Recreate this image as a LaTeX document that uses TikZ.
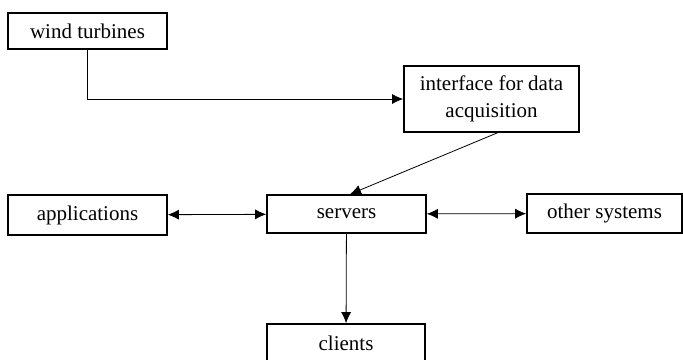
\documentclass[tikz,border=0pt]{standalone}
\usepackage{fontspec}
\setmainfont{Liberation Serif}
\usetikzlibrary{arrows.meta}

\tikzset{
  unit/.style={draw, line width=1.6pt, inner sep=0pt, align=center,
    font=\fontsize{21}{27}\selectfont},
}

\begin{document}
\begin{tikzpicture}
    [>={Latex[length=11pt,width=10pt]},
    x=1pt, y=-1pt,
    line width=0.8pt,
    line join=miter]

    \useasboundingbox (0,0) rectangle (683,359);

    \node[unit, minimum width=159, minimum height=36] (turbines) at (87.5,31) {wind turbines};
    \node[unit, minimum width=175, minimum height=66] (interface) at (491.5,99) {interface for data\\acquisition};
    \node[unit, minimum width=159, minimum height=40] (applications) at (87.5,215) {applications};
    \node[unit, minimum width=159, minimum height=38] (servers) at (346.5,214) {servers};
    \node[unit, minimum width=155, minimum height=39] (others) at (604.5,213.5) {other systems};
    \node[unit, minimum width=158, minimum height=38] (clients) at (346,343) {clients};

    % Verbindungen
    \draw[->] (turbines.south) |- (interface.west);
    \draw[->] (interface.-80) -- (servers.80);
    \draw[<->] (applications) -- (servers);
    \draw[<->] (servers) -- (others);
    \draw[->] (servers) -- (clients);
\end{tikzpicture}
\end{document}
